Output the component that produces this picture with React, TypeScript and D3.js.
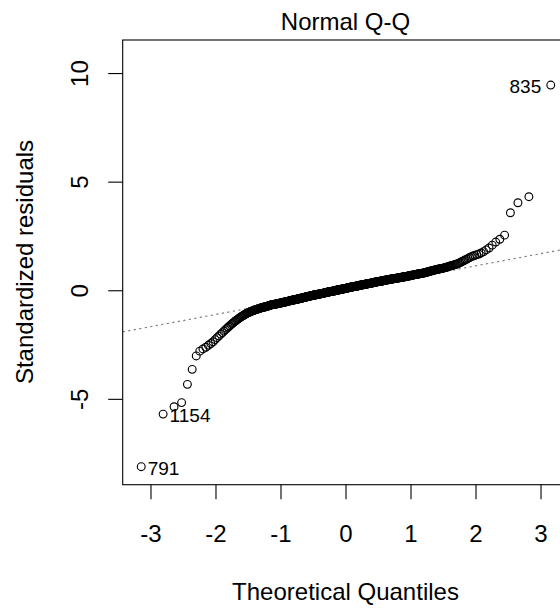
import React from "react";
import * as d3 from "d3";

// Sorted standardized residuals (n = 612)
const residuals: number[] = [
  -8.10, -5.68, -5.34, -5.15, -4.31, -3.62, -3.00, -2.78, -2.68, -2.60,
  -2.51, -2.43, -2.35, -2.25, -2.16, -2.08, -2.00, -1.93, -1.86, -1.79,
  -1.73, -1.67, -1.62, -1.56, -1.51, -1.47, -1.42, -1.38, -1.34, -1.31,
  -1.27, -1.24, -1.20, -1.18, -1.15, -1.12, -1.10, -1.07, -1.05, -1.03,
  -1.01, -0.99, -0.98, -0.96,
  -0.95, -0.93, -0.92, -0.91, -0.89, -0.88, -0.87, -0.86, -0.85, -0.84,
  -0.83, -0.82, -0.81, -0.80, -0.79, -0.78, -0.77, -0.77, -0.76, -0.75,
  -0.75, -0.74, -0.73, -0.72, -0.72, -0.71, -0.70, -0.69, -0.69, -0.68,
  -0.67, -0.66,
  -0.65, -0.65, -0.64, -0.64, -0.63, -0.63, -0.63, -0.62, -0.62, -0.61,
  -0.61, -0.60, -0.60, -0.59, -0.59, -0.59, -0.58, -0.58, -0.57, -0.57,
  -0.56, -0.56, -0.55, -0.55, -0.55, -0.54, -0.54, -0.53, -0.53, -0.52,
  -0.52, -0.51, -0.51, -0.51, -0.50, -0.50, -0.49, -0.49, -0.48, -0.48,
  -0.47, -0.47, -0.46, -0.46,
  -0.45, -0.45, -0.45, -0.44, -0.44, -0.44, -0.43, -0.43, -0.42, -0.42,
  -0.42, -0.41, -0.41, -0.41, -0.40, -0.40, -0.39, -0.39, -0.39, -0.38,
  -0.38, -0.38, -0.37, -0.37, -0.36, -0.36, -0.36, -0.35, -0.35, -0.35,
  -0.34, -0.34, -0.33, -0.33, -0.33, -0.32, -0.32, -0.32, -0.31, -0.31,
  -0.30, -0.30, -0.30, -0.29, -0.29, -0.29, -0.28, -0.28, -0.27, -0.27,
  -0.27, -0.26, -0.26, -0.26, -0.25, -0.25, -0.24, -0.24, -0.24,
  -0.23, -0.23, -0.23, -0.23, -0.22, -0.22, -0.22, -0.21, -0.21, -0.21,
  -0.21, -0.20, -0.20, -0.20, -0.19, -0.19, -0.19, -0.19, -0.18, -0.18,
  -0.18, -0.17, -0.17, -0.17, -0.17, -0.16, -0.16, -0.16, -0.15, -0.15,
  -0.15, -0.15, -0.14, -0.14, -0.14, -0.13, -0.13, -0.13, -0.13, -0.12,
  -0.12, -0.12, -0.11, -0.11, -0.11, -0.11, -0.10, -0.10, -0.10, -0.09,
  -0.09, -0.09, -0.09, -0.08, -0.08, -0.08, -0.07, -0.07, -0.07, -0.07,
  -0.06, -0.06, -0.06, -0.05, -0.05, -0.05, -0.05,
  -0.04, -0.04, -0.04, -0.04, -0.03, -0.03, -0.03, -0.03, -0.02, -0.02,
  -0.02, -0.02, -0.01, -0.01, -0.01, 0.00, 0.00, 0.00, 0.00, 0.01,
  0.01, 0.01, 0.01, 0.02, 0.02, 0.02, 0.02, 0.03, 0.03, 0.03,
  0.04, 0.04, 0.04, 0.04, 0.05, 0.05, 0.05, 0.05, 0.06, 0.06,
  0.06, 0.06, 0.07, 0.07, 0.07, 0.08, 0.08, 0.08, 0.08, 0.09,
  0.09, 0.09, 0.09, 0.10, 0.10, 0.10, 0.10, 0.11, 0.11, 0.11,
  0.12, 0.12, 0.12, 0.12, 0.13, 0.13, 0.13, 0.13, 0.14, 0.14,
  0.14, 0.14, 0.15, 0.15, 0.15, 0.15, 0.16, 0.16, 0.16, 0.17,
  0.17, 0.17, 0.17, 0.18, 0.18, 0.18, 0.18, 0.19, 0.19, 0.19,
  0.19, 0.20, 0.20, 0.20, 0.20, 0.21, 0.21, 0.21, 0.21, 0.22,
  0.22, 0.22, 0.22, 0.23, 0.23, 0.23, 0.23, 0.24, 0.24, 0.24,
  0.25, 0.25, 0.25, 0.25, 0.26, 0.26, 0.26, 0.26, 0.27, 0.27,
  0.27, 0.27, 0.28, 0.28, 0.28, 0.28, 0.29, 0.29, 0.29, 0.29,
  0.30, 0.30, 0.30, 0.30, 0.31, 0.31, 0.31, 0.31, 0.32, 0.32,
  0.32, 0.33, 0.33, 0.33, 0.33, 0.34, 0.34, 0.34, 0.34, 0.35,
  0.35, 0.35, 0.36, 0.36, 0.36, 0.36, 0.37, 0.37, 0.37, 0.37,
  0.38, 0.38, 0.38, 0.39, 0.39, 0.39, 0.39, 0.40, 0.40, 0.40,
  0.40, 0.41, 0.41, 0.41, 0.42, 0.42, 0.42, 0.42, 0.43, 0.43,
  0.43, 0.43, 0.44, 0.44, 0.44, 0.45, 0.45, 0.45, 0.45, 0.46,
  0.46, 0.46, 0.46, 0.47, 0.47, 0.47, 0.48, 0.48, 0.48,
  0.49, 0.49, 0.49, 0.49, 0.50, 0.50, 0.50, 0.51, 0.51, 0.51,
  0.51, 0.52, 0.52, 0.52, 0.53, 0.53, 0.53, 0.53, 0.54, 0.54,
  0.54, 0.55, 0.55, 0.55, 0.55, 0.56, 0.56, 0.56, 0.57, 0.57,
  0.57, 0.57, 0.58, 0.58, 0.58, 0.59, 0.59, 0.59, 0.59, 0.60,
  0.60, 0.60, 0.61, 0.61, 0.61, 0.61, 0.62, 0.62, 0.62, 0.63,
  0.63, 0.63, 0.63, 0.64, 0.64, 0.64,
  0.65, 0.65, 0.66, 0.66, 0.66, 0.67, 0.67, 0.68, 0.68, 0.69,
  0.69, 0.69, 0.70, 0.70, 0.71, 0.71, 0.72, 0.72, 0.72, 0.73,
  0.73, 0.74, 0.74, 0.75, 0.75, 0.75, 0.76, 0.76, 0.77, 0.77,
  0.78, 0.78, 0.78, 0.79, 0.79, 0.80, 0.80, 0.81, 0.81, 0.82,
  0.82, 0.83, 0.83,
  0.84, 0.85, 0.85, 0.86, 0.87, 0.88, 0.89, 0.89, 0.90, 0.91,
  0.92, 0.93, 0.93, 0.94, 0.95, 0.96, 0.96, 0.97, 0.98, 0.99,
  0.99, 1.00, 1.01, 1.02, 1.02, 1.03, 1.04, 1.05, 1.06,
  1.07, 1.08, 1.10, 1.11, 1.12, 1.14, 1.15, 1.16, 1.18, 1.19,
  1.21, 1.22, 1.24, 1.26,
  1.29, 1.32, 1.35, 1.38, 1.42, 1.45, 1.49, 1.53, 1.57,
  1.60, 1.63, 1.66, 1.69, 1.74, 1.80, 1.88, 1.97, 2.10, 2.24,
  2.37, 2.56, 3.59, 4.05, 4.33, 9.47,
];

// Identified observations (row names) and their positions in the sorted list
const idLabels: string[] = ["791", "1154", "835"];
const idRanks: number[] = [0, 1, residuals.length - 1];

const xTicks: number[] = [-3, -2, -1, 0, 1, 2, 3];
const yTicks: number[] = [-5, 0, 5, 10];

// Reference line (qqline)
const lineIntercept = 0.03;
const lineSlope = 0.56;

const title = "Normal Q-Q";
const xTitle = "Theoretical Quantiles";
const yTitle = "Standardized residuals";

// Inverse standard normal CDF (Acklam's algorithm)
function qnorm(p: number): number {
  const a = [-3.969683028665376e1, 2.209460984245205e2, -2.759285104469687e2, 1.38357751867269e2, -3.066479806614716e1, 2.506628277459239];
  const b = [-5.447609879822406e1, 1.615858368580409e2, -1.556989798598866e2, 6.680131188771972e1, -1.328068155288572e1];
  const c = [-7.784894002430293e-3, -3.223964580411365e-1, -2.400758277161838, -2.549671071911102, 4.374664141464968, 2.938163982698783];
  const d = [7.784695709041462e-3, 3.224671290700398e-1, 2.445134137142996, 3.754408661907416];
  const pl = 0.02425;
  if (p < pl) {
    const q = Math.sqrt(-2 * Math.log(p));
    return (((((c[0] * q + c[1]) * q + c[2]) * q + c[3]) * q + c[4]) * q + c[5]) / ((((d[0] * q + d[1]) * q + d[2]) * q + d[3]) * q + 1);
  }
  if (p <= 1 - pl) {
    const q = p - 0.5;
    const r = q * q;
    return ((((((a[0] * r + a[1]) * r + a[2]) * r + a[3]) * r + a[4]) * r + a[5]) * q) / (((((b[0] * r + b[1]) * r + b[2]) * r + b[3]) * r + b[4]) * r + 1);
  }
  const q = Math.sqrt(-2 * Math.log(1 - p));
  return -(((((c[0] * q + c[1]) * q + c[2]) * q + c[3]) * q + c[4]) * q + c[5]) / ((((d[0] * q + d[1]) * q + d[2]) * q + d[3]) * q + 1);
}

const W = 560;
const H = 609;
const FONT = "'Liberation Sans', Arial, Helvetica, sans-serif";

export default function App() {
  const n = residuals.length;
  const theo = residuals.map((_, i) => qnorm((i + 0.5) / n));

  const left = 122.7;
  const top = 40;
  const bottom = 484.7;
  const right = 569.3;

  const x = d3.scaleLinear().domain([-3.435, 3.435]).range([left, right]);
  const y = d3.scaleLinear().domain([-8.93, 11.545]).range([bottom, top]);

  const lineGen = d3
    .line<number>()
    .x((q) => x(q))
    .y((q) => y(lineIntercept + lineSlope * q));
  const lineQs = [-3.435, 3.435];

  const tickLen = 14.5;

  return (
    <svg
      width={W}
      height={H}
      viewBox={`0 0 ${W} ${H}`}
      style={{ position: "absolute", left: 0, top: 0, display: "block", background: "#fff" }}
      fontFamily={FONT}
    >
      <rect x={0} y={0} width={W} height={H} fill="#fff" />
      <defs>
        <clipPath id="plotClip">
          <rect x={left} y={top} width={right - left} height={bottom - top} />
        </clipPath>
      </defs>

      <g clipPath="url(#plotClip)">
        {/* reference line */}
        <path
          d={lineGen(lineQs) || ""}
          fill="none"
          stroke="#7f7f7f"
          strokeWidth={1.2}
          strokeDasharray="2.2,3.4"
        />
        {/* points */}
        {residuals.map((r, i) => (
          <circle key={i} cx={x(theo[i])} cy={y(r)} r={3.9} fill="none" stroke="#000" strokeWidth={1.15} />
        ))}
      </g>

      {/* id labels */}
      {idRanks.map((rank, k) => {
        const px = x(theo[rank]);
        const py = y(residuals[rank]);
        const onRight = theo[rank] > 0;
        return (
          <text
            key={idLabels[k]}
            x={onRight ? px - 9.5 : px + 6.5}
            y={py + 8}
            fontSize={19}
            textAnchor={onRight ? "end" : "start"}
            fill="#000"
          >
            {idLabels[k]}
          </text>
        );
      })}

      {/* frame */}
      <rect x={left} y={top} width={right - left} height={bottom - top} fill="none" stroke="#000" strokeWidth={1.1} />

      {/* x axis */}
      {xTicks.map((t) => (
        <g key={`xt${t}`}>
          <line x1={x(t)} x2={x(t)} y1={bottom} y2={bottom + tickLen} stroke="#000" strokeWidth={1.1} />
          <text x={x(t)} y={541.5} fontSize={24} textAnchor="middle" fill="#000">
            {String(t)}
          </text>
        </g>
      ))}

      {/* y axis */}
      {yTicks.map((t) => (
        <g key={`yt${t}`}>
          <line x1={left - tickLen} x2={left} y1={y(t)} y2={y(t)} stroke="#000" strokeWidth={1.1} />
          <text
            x={88.5}
            y={y(t)}
            fontSize={24}
            textAnchor="middle"
            fill="#000"
            transform={`rotate(-90, 88.5, ${y(t)})`}
          >
            {String(t)}
          </text>
        </g>
      ))}

      {/* titles */}
      <text x={345.5} y={30} fontSize={24} textAnchor="middle" fill="#000">
        {title}
      </text>
      <text x={345.5} y={600} fontSize={24} textAnchor="middle" fill="#000">
        {xTitle}
      </text>
      <text
        x={32.5}
        y={262}
        fontSize={24}
        textAnchor="middle"
        fill="#000"
        transform={`rotate(-90, 32.5, 262)`}
      >
        {yTitle}
      </text>
    </svg>
  );
}
